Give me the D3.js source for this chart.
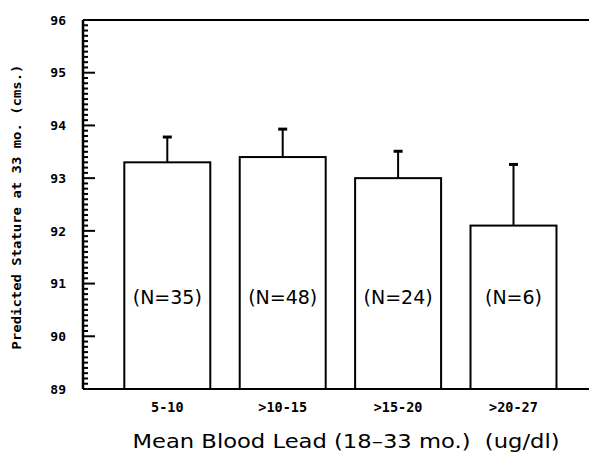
<!DOCTYPE html>
<html><head><meta charset="utf-8">
<script src="https://cdn.jsdelivr.net/npm/d3@7"></script>
<style>body{margin:0;background:#fff}</style>
</head><body>
<svg id="c" width="589" height="454"></svg>
<script>
const categories = ["5-10", ">10-15", ">15-20", ">20-27"];
const means = [93.3, 93.4, 93.0, 92.1];
const upper = [93.78, 93.93, 93.51, 93.26];
const nLabels = ["(N=35)", "(N=48)", "(N=24)", "(N=6)"];
const yTicks = [89, 90, 91, 92, 93, 94, 95, 96];

const svg = d3.select("#c");
const mLeft = 83, mTop = 20, mBottom = 389, mRight = 589;
const y = d3.scaleLinear().domain([89, 96]).range([mBottom, mTop]);
const x = d3.scaleBand().domain(categories).range([109.6, 571.2]).paddingInner(0.255).paddingOuter(0.1275);

// frame lines
svg.append("line").attr("x1", mLeft).attr("x2", mRight).attr("y1", mTop).attr("y2", mTop).attr("stroke", "#000").attr("stroke-width", 2);
svg.append("line").attr("x1", mLeft).attr("x2", mRight).attr("y1", mBottom).attr("y2", mBottom).attr("stroke", "#000").attr("stroke-width", 2);
svg.append("line").attr("x1", mLeft).attr("x2", mLeft).attr("y1", mTop).attr("y2", mBottom).attr("stroke", "#000").attr("stroke-width", 2.5);

// minor ticks
const minor = d3.range(890, 961).map(v => v / 10);
svg.append("g").selectAll("line").data(minor).join("line")
  .attr("x1", mLeft).attr("x2", d => (Math.round(d * 10) % 10 === 0) ? mLeft + 12 : mLeft + 5)
  .attr("y1", d => y(d)).attr("y2", d => y(d))
  .attr("stroke", "#000").attr("stroke-width", 2);

// y tick labels
svg.append("g").selectAll("text").data(yTicks).join("text")
  .attr("x", 66).attr("y", d => y(d)).attr("dy", "0.36em")
  .attr("text-anchor", "end")
  .style("font-family", "DejaVu Sans Mono").style("font-weight", "bold").style("font-size", "13px")
  .text(d => d);

// bars
svg.append("g").selectAll("rect").data(means).join("rect")
  .attr("x", (d, i) => x(categories[i])).attr("width", x.bandwidth())
  .attr("y", d => y(d)).attr("height", d => y(89) - y(d))
  .attr("fill", "#fff").attr("stroke", "#000").attr("stroke-width", 2);

// error bars
const eb = svg.append("g");
eb.selectAll("line.v").data(upper).join("line").attr("class", "v")
  .attr("x1", (d, i) => x(categories[i]) + x.bandwidth() / 2)
  .attr("x2", (d, i) => x(categories[i]) + x.bandwidth() / 2)
  .attr("y1", (d, i) => y(means[i])).attr("y2", d => y(d))
  .attr("stroke", "#000").attr("stroke-width", 2);
eb.selectAll("line.c").data(upper).join("line").attr("class", "c")
  .attr("x1", (d, i) => x(categories[i]) + x.bandwidth() / 2 - 4.5)
  .attr("x2", (d, i) => x(categories[i]) + x.bandwidth() / 2 + 4.5)
  .attr("y1", d => y(d)).attr("y2", d => y(d))
  .attr("stroke", "#000").attr("stroke-width", 3);

// N labels
svg.append("g").selectAll("text").data(nLabels).join("text")
  .attr("x", (d, i) => x(categories[i]) + x.bandwidth() / 2)
  .attr("y", y(91) + 20)
  .attr("text-anchor", "middle")
  .style("font-family", "DejaVu Sans").style("font-size", "19px")
  .text(d => d);

// x tick labels
svg.append("g").selectAll("text").data(categories).join("text")
  .attr("x", d => x(d) + x.bandwidth() / 2)
  .attr("y", 412)
  .attr("text-anchor", "middle")
  .style("font-family", "DejaVu Sans Mono").style("font-weight", "bold").style("font-size", "13.5px")
  .text(d => d);

// x title
svg.append("text").attr("x", 346).attr("y", 448).attr("text-anchor", "middle")
  .attr("textLength", 427).attr("lengthAdjust", "spacingAndGlyphs")
  .style("white-space", "pre")
  .style("font-family", "DejaVu Sans").style("font-size", "20px")
  .text("Mean Blood Lead (18\u201333 mo.)  (ug/dl)");

// y title
svg.append("text").attr("transform", "translate(21,207) rotate(-90)")
  .attr("text-anchor", "middle")
  .attr("textLength", 285).attr("lengthAdjust", "spacingAndGlyphs")
  .style("font-family", "DejaVu Sans Mono").style("font-weight", "bold").style("font-size", "12.5px")
  .text("Predicted Stature at 33 mo. (cms.)");
</script>
</body></html>
